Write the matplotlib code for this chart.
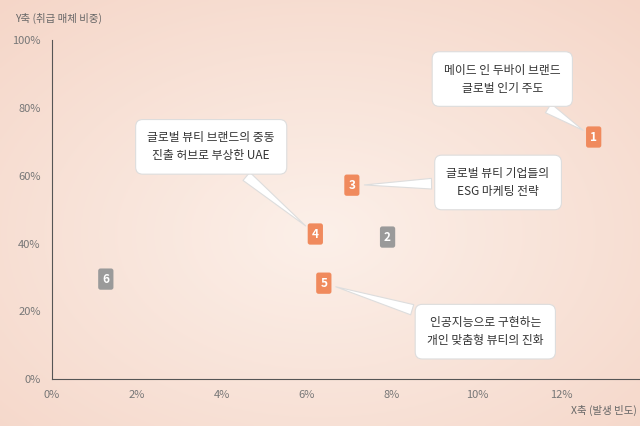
import numpy as np
import matplotlib
matplotlib.use("Agg")
import matplotlib.pyplot as plt

plt.rcParams["font.family"] = ["Noto Sans CJK JP", "Noto Sans CJK SC", "Noto Sans CJK KR", "DejaVu Sans"]

labels = ["1", "2", "3", "4", "5", "6"]
x_vals = [12.75, 7.9, 7.06, 6.2, 6.4, 1.27]
y_vals = [71.4, 41.9, 57.2, 42.8, 28.3, 29.5]
highlight = [True, False, True, True, True, False]
callouts = {
    "1": ("메이드 인 두바이 브랜드\n글로벌 인기 주도", (10.6, 88.5)),
    "4": ("글로벌 뷰티 브랜드의 중동\n진출 허브로 부상한 UAE", (3.75, 68.5)),
    "3": ("글로벌 뷰티 기업들의\nESG 마케팅 전략", (10.5, 58.0)),
    "5": ("인공지능으로 구현하는\n개인 맞춤형 뷰티의 진화", (10.2, 14.0)),
}
x_ticks = [0, 2, 4, 6, 8, 10, 12]
y_ticks = [0, 20, 40, 60, 80, 100]

fig = plt.figure(figsize=(6.4, 4.26), dpi=100)

# gradient background
bg = fig.add_axes([0, 0, 1, 1], zorder=-1)
yy, xx = np.mgrid[0:1:200j, 0:1:300j]
d = np.sqrt((xx - 0.5) ** 2 + (yy - 0.55) ** 2)
t = np.clip(d / 0.75, 0, 1)[..., None]
inner = np.array([252, 240, 233]) / 255
outer = np.array([245, 214, 200]) / 255
bg.imshow(inner * (1 - t) + outer * t, aspect="auto", extent=[0, 1, 0, 1])
bg.axis("off")

ax = fig.add_axes([0.081, 0.110, 0.919, 0.796])
ax.patch.set_alpha(0)
ax.set_xlim(0, 13.84)
ax.set_ylim(0, 100)
for s in ["top", "right"]:
    ax.spines[s].set_visible(False)
for s in ["left", "bottom"]:
    ax.spines[s].set_color("#555555")
ax.set_xticks(x_ticks)
ax.set_xticklabels([f"{v}%" for v in x_ticks])
ax.set_yticks(y_ticks)
ax.set_yticklabels([f"{v}%" for v in y_ticks])
ax.tick_params(length=0, labelsize=8, colors="#777777", pad=8)

for lab, x, y, h in zip(labels, x_vals, y_vals, highlight):
    c = "#f08a5d" if h else "#9a9a9a"
    ax.text(x, y, lab, ha="center", va="center", color="white", fontsize=8.5,
            fontweight="bold", zorder=5,
            bbox=dict(boxstyle="round,pad=0.35,rounding_size=0.2", fc=c, ec="none"))
    if lab in callouts:
        txt, pos = callouts[lab]
        ax.annotate(txt, xy=(x, y), xytext=pos, ha="center", va="center",
                    fontsize=8.5, color="#333333", linespacing=1.5, zorder=4,
                    bbox=dict(boxstyle="round,pad=1.0,rounding_size=0.6", fc="white",
                              ec="#dddddd", lw=0.8),
                    arrowprops=dict(arrowstyle="wedge,tail_width=0.9,shrink_factor=0.5",
                                    fc="white", ec="#dddddd", lw=0.8, shrinkB=9))

fig.text(0.023, 0.957, "Y축 (취급 매체 비중)", fontsize=7.5, color="#666666", va="center")
fig.text(0.995, 0.037, "X축 (발생 빈도)", fontsize=7.5, color="#666666", va="center", ha="right")

fig.savefig("out.png", dpi=100)
